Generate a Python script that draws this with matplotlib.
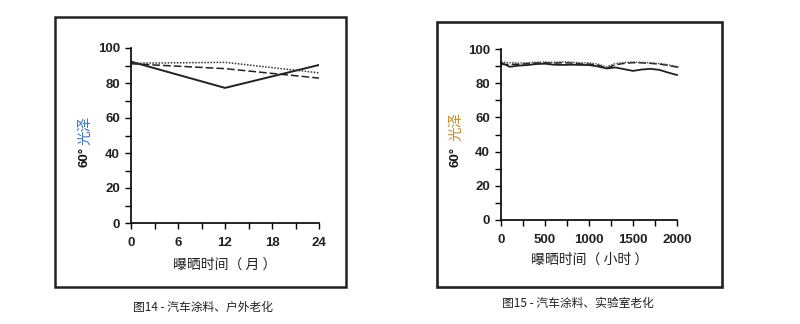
import matplotlib.pyplot as plt
from matplotlib.patches import Rectangle
from matplotlib.ticker import MultipleLocator

plt.rcParams['font.family'] = ['Liberation Sans', 'Noto Sans CJK SC', 'DejaVu Sans']

# outdoor ageing (months)
months = [0, 12, 24]
out_solid = [92.2, 77.2, 90.3]
out_dashed = [91.0, 88.2, 82.8]
out_dotted = [91.3, 91.8, 85.8]

# lab ageing (hours)
hours = [0, 100, 200, 300, 400, 500, 600, 700, 800, 900, 1000,
         1100, 1200, 1300, 1400, 1500, 1600, 1700, 1800, 1900, 2000, 2030]
lab_solid = [92.0, 89.6, 90.3, 90.6, 91.2, 91.4, 90.8, 90.7, 90.8, 90.7, 90.6,
             89.8, 88.6, 89.2, 88.2, 87.2, 88.0, 88.4, 87.8, 86.2, 84.8, 84.3]
lab_dashed = [91.0, 91.0, 91.1, 91.4, 91.8, 92.0, 91.7, 92.0, 91.8, 91.3, 91.2,
              90.6, 88.8, 90.8, 91.6, 92.0, 91.9, 91.6, 91.2, 90.4, 89.4, 88.9]
lab_dotted = [92.5, 92.0, 91.8, 92.0, 92.3, 92.4, 92.2, 92.5, 92.3, 92.0, 91.9,
              91.2, 89.6, 91.5, 92.1, 92.4, 92.2, 91.9, 91.5, 90.8, 89.8, 89.4]

W, H = 800, 324
fig = plt.figure(figsize=(8, 3.24), dpi=100)

# frames
fig.patches.append(Rectangle((55 / W, 37 / H), 291 / W, 270 / H, transform=fig.transFigure,
                             fill=False, lw=1.8, ec='#222222'))
fig.patches.append(Rectangle((437 / W, 37 / H), 285 / W, 265 / H, transform=fig.transFigure,
                             fill=False, lw=1.9, ec='#222222'))


def style(ax):
    for s in ['top', 'right']:
        ax.spines[s].set_visible(False)
    for s in ['left', 'bottom']:
        ax.spines[s].set_linewidth(1.2)
    ax.set_ylim(0, 100)
    ax.yaxis.set_major_locator(MultipleLocator(20))
    ax.yaxis.set_minor_locator(MultipleLocator(10))
    ax.tick_params(which='both', direction='out', length=4, width=1)
    ax.tick_params(axis='y', pad=4)
    ax.tick_params(axis='x', pad=6)
    for lab in ax.get_xticklabels() + ax.get_yticklabels():
        lab.set_fontsize(9.5)
        lab.set_fontweight('bold')
        lab.set_color('#222222')


ax1 = fig.add_axes([131 / W, (H - 223) / H, 188 / W, 175 / H])
ax1.plot(months, out_solid, color='#222222', lw=1.4)
ax1.plot(months, out_dashed, color='#222222', lw=1.1, ls=(0, (5, 2)))
ax1.plot(months, out_dotted, color='#333333', lw=1.1, ls=(0, (1, 1)))
ax1.set_xlim(0, 24)
ax1.set_xticks([0, 6, 12, 18, 24])
ax1.xaxis.set_minor_locator(MultipleLocator(3))
style(ax1)

ax2 = fig.add_axes([501 / W, (H - 220) / H, 176 / W, 171 / H])
ax2.plot(hours[:-1], lab_solid[:-1], color='#222222', lw=1.3, clip_on=False)
ax2.plot(hours, lab_dashed, color='#222222', lw=1.1, ls=(0, (5, 2)), clip_on=False)
ax2.plot(hours, lab_dotted, color='#444444', lw=1.0, ls=(0, (1, 1)), clip_on=False)
ax2.set_xlim(0, 2000)
ax2.set_xticks([0, 500, 1000, 1500, 2000])
ax2.xaxis.set_minor_locator(MultipleLocator(250))
style(ax2)

# y labels
fig.text(85 / W, (H - 157) / H, '60°', rotation=90, ha='center', va='center',
         fontsize=9.5, fontweight='bold', color='#111111')
fig.text(85 / W, (H - 130) / H, '光泽', rotation=90, ha='center', va='center',
         fontsize=10.5, color='#3b78c4', family=['Noto Sans CJK SC'])
fig.text(456 / W, (H - 157) / H, '60°', rotation=90, ha='center', va='center',
         fontsize=9.5, fontweight='bold', color='#111111')
fig.text(456 / W, (H - 126) / H, '光泽', rotation=90, ha='center', va='center',
         fontsize=10.5, color='#c8902f', family=['Noto Sans CJK SC'])

# x labels
fig.text(225 / W, (H - 265) / H, '曝晒时间（ 月 ）', ha='center', va='center',
         fontsize=10, color='#222222', family=['Noto Sans CJK SC'])
fig.text(590 / W, (H - 260) / H, '曝晒时间（ 小时 ）', ha='center', va='center',
         fontsize=10, color='#222222', family=['Noto Sans CJK SC'])

# captions
fig.text(133 / W, (H - 307) / H, '图14 - 汽车涂料、户外老化', ha='left', va='center',
         fontsize=8.5, color='#222222', family=['Noto Sans CJK SC'])
fig.text(502 / W, (H - 303) / H, '图15 - 汽车涂料、实验室老化', ha='left', va='center',
         fontsize=8.5, color='#222222', family=['Noto Sans CJK SC'])

fig.savefig('out.png', dpi=100)
